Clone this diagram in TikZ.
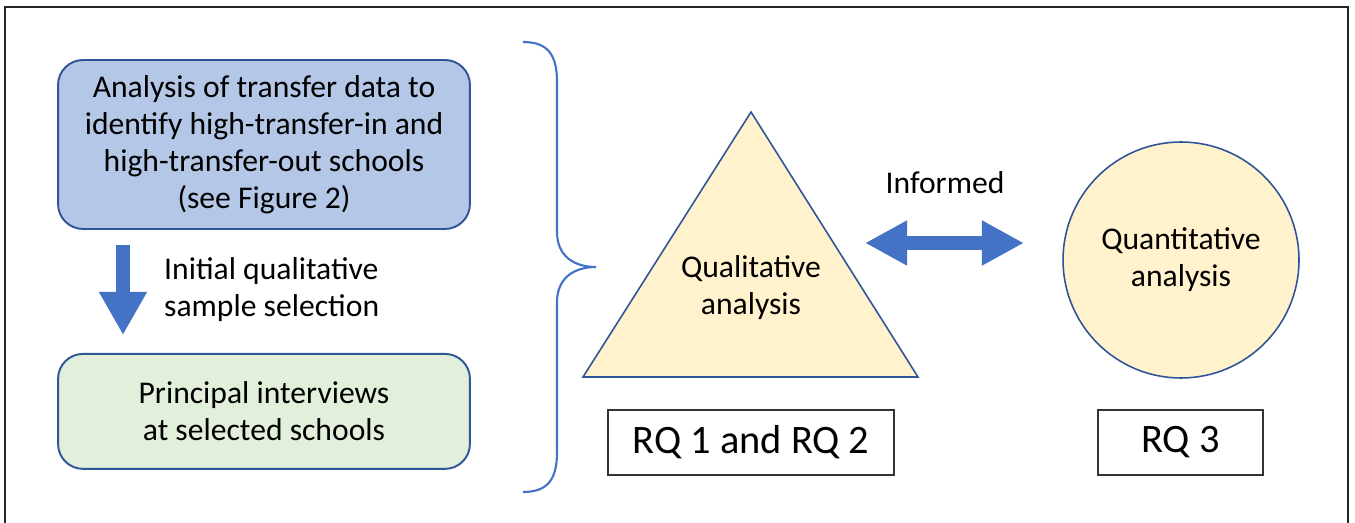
\documentclass[tikz,border=0pt]{standalone}
\usepackage{fontspec}
\setmainfont{Carlito}
\usepackage{tikz}
\usetikzlibrary{arrows.meta,positioning}
\definecolor{boxblue}{HTML}{B4C7E7}
\definecolor{boxgreen}{HTML}{E2EFDA}
\definecolor{sand}{HTML}{FFF2CC}
\definecolor{edgeblue}{HTML}{2F5597}
\definecolor{arrowblue}{HTML}{4472C4}

\begin{document}
\begin{tikzpicture}[x=0.02cm, y=-0.02cm, every node/.style={font=\fontsize{18}{21}\selectfont, align=center}]
\tikzset{stage/.style={draw=edgeblue, line width=1.1pt, rounded corners=0.5cm, minimum width=8.24cm}}
\tikzset{rq/.style={draw=black!80, line width=0.8pt, minimum height=1.3cm, font=\fontsize{23}{27}\selectfont}}
\tikzset{blockarrow/.style={draw=arrowblue, fill=arrowblue}}
\useasboundingbox (0,0) rectangle (1355,523);
\draw[line width=1.2pt, black!85] (5,540) -- (5,7) -- (1348,7) -- (1348,540);
% left column
\node[stage, fill=boxblue, minimum height=3.38cm] (data) at (264,144.5) {Analysis of transfer data to\\identify high-transfer-in and\\high-transfer-out schools\\(see Figure 2)};
\node[stage, fill=boxgreen, minimum height=2.3cm, below=2.46cm of data] (intv) {Principal interviews\\at selected schools};
\coordinate (selA) at (123,245);
\coordinate (selB) at (123,335);
\draw[blockarrow, line width=8.5pt, -{Triangle[width=25.6pt,length=24.5pt]}] (selA) -- (selB);
\node[anchor=west, align=left] (sel) at (158,290) {Initial qualitative\\sample selection};
% brace
\draw[arrowblue, line width=1.2pt] (523,42) .. controls (548,42) and (557,55) .. (557,82) -- (557,232) .. controls (557,256) and (574,267) .. (596,267) .. controls (574,267) and (557,278) .. (557,302) -- (557,452) .. controls (557,479) and (548,492) .. (523,492);
% right part
\draw[edgeblue, fill=sand, line width=0.9pt] (751,112) -- (918,377) -- (583,377) -- cycle;
\node (qual) at (751,288) {Qualitative\\analysis};
\node[circle, draw=edgeblue, fill=sand, line width=0.9pt, minimum size=4.72cm, inner sep=0pt] (quant) at (1181,260) {Quantitative\\analysis};
\coordinate (infL) at (865,243);
\coordinate (infR) at (1024,243);
\draw[blockarrow, line width=8pt, {Triangle[width=24pt,length=24pt]}-{Triangle[width=24pt,length=24pt]}] (infL) -- (infR);
\node (inf) at (945,183) {Informed};
\node[rq, minimum width=5.72cm] (rqa) at (751,442.5) {RQ 1 and RQ 2};
\node[rq, minimum width=3.3cm] (rqb) at (1180.5,442.5) {RQ 3};
\end{tikzpicture}
\end{document}
